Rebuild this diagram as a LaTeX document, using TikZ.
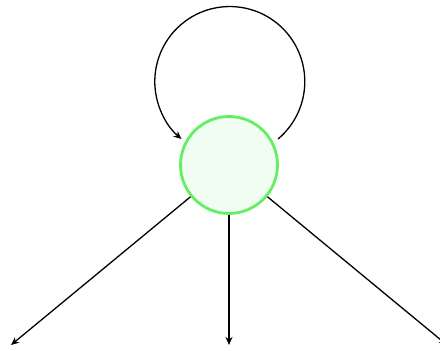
\documentclass[tikz,border=0pt]{standalone}
\usetikzlibrary{arrows.meta}
\definecolor{nodegreen}{RGB}{100,238,100}
\definecolor{nodefill}{RGB}{240,253,240}
\tikzset{
  statenode/.style={circle, draw=nodegreen, fill=nodefill, line width=2.8pt, minimum size=97pt, inner sep=0pt},
  edge/.style={line width=1.3pt, -{Stealth[length=8pt,width=7pt,inset=2.5pt]}}
}
\begin{document}
\begin{tikzpicture}[x=1pt,y=1pt]
\useasboundingbox (0,0) rectangle (440,351);
\node[statenode] (c) at (229,186) {};
\coordinate (ls) at (278,212);
\coordinate (tl) at (11,6);
\coordinate (tm) at (229,6);
\coordinate (tr) at (447,6);
\draw[edge] (ls) arc[start angle=-50, end angle=230, radius=75];
\draw[edge] (c) -- (tl);
\draw[edge] (c) -- (tm);
\draw[edge] (c) -- (tr);
\end{tikzpicture}
\end{document}
